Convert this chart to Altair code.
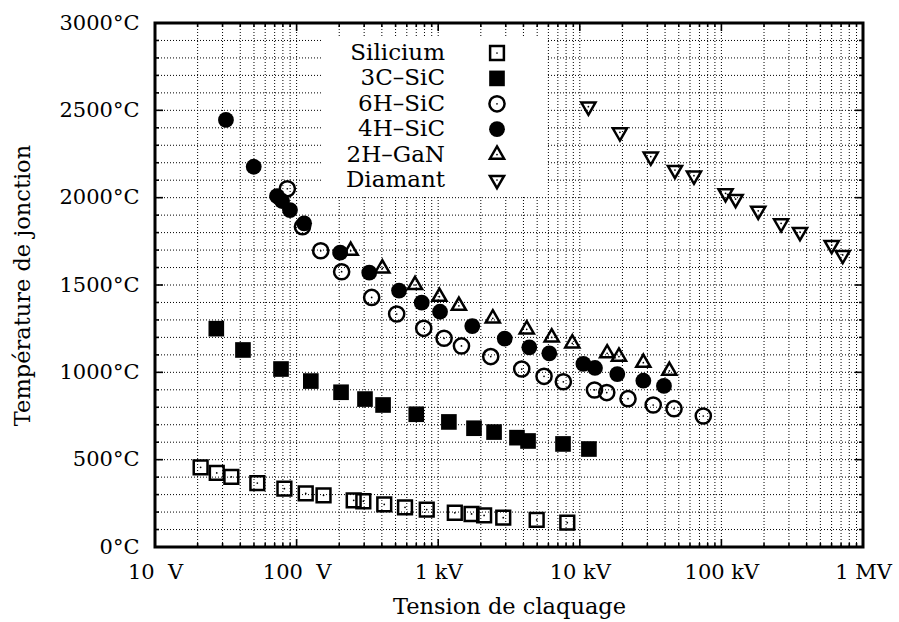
import json
import altair as alt
import pandas as pd

# Breakdown voltage (V) and maximum junction temperature (°C) for each material
si_v = [21, 27.3, 34.6, 52.8, 82, 116, 155, 253, 296, 416, 583, 830, 1310, 1720, 2110, 2880, 4960, 8160]
si_t = [456, 424, 402, 366, 334, 307, 296, 267, 262, 244, 227, 214, 196, 189, 181, 168, 155, 139]

c3_v = [27.1, 41.8, 77.6, 126, 206, 304, 408, 700, 1190, 1790, 2480, 3600, 4310, 7610, 11600]
c3_t = [1250, 1128, 1019, 950, 886, 847, 813, 760, 716, 680, 658, 626, 607, 590, 561]

h6_v = [86, 110, 148, 208, 339, 509, 790, 1100, 1460, 2350, 3890, 5590, 7650, 12700, 15500,
        21900, 33000, 46300, 74500]
h6_t = [2051, 1834, 1696, 1576, 1429, 1334, 1252, 1195, 1151, 1090, 1019, 977, 946, 899, 884,
        849, 813, 792, 750]

h4_v = [31.7, 49.8, 72.7, 78.9, 89.8, 113, 203, 326, 529, 765, 1030, 1740, 2950, 4400, 6090,
        10600, 12800, 18400, 28100, 39300]
h4_t = [2445, 2177, 2009, 1981, 1929, 1853, 1685, 1571, 1468, 1399, 1347, 1265, 1193, 1143, 1109,
        1048, 1025, 990, 952, 922]

gan_v = [241, 403, 686, 1020, 1400, 2430, 4220, 6330, 8850, 15600, 18900, 28100, 42900]
gan_t = [1696, 1595, 1500, 1433, 1381, 1309, 1246, 1200, 1166, 1109, 1090, 1055, 1009]

dia_v = [11500, 19200, 31700, 47000, 64000, 107000, 126000, 182000, 264000, 359000, 601000, 719000]
dia_t = [2521, 2374, 2235, 2158, 2126, 2025, 1992, 1925, 1853, 1803, 1729, 1672]

names = ["Silicium", "3C–SiC", "6H–SiC", "4H–SiC", "2H–GaN", "Diamant"]
volts = [si_v, c3_v, h6_v, h4_v, gan_v, dia_v]
temps = [si_t, c3_t, h6_t, h4_t, gan_t, dia_t]

# Axis labels
x_tick_values = [10, 100, 1000, 10000, 100000, 1000000]
x_tick_labels = ["10\u00a0\u00a0V", "100\u00a0\u00a0V", "1\u00a0kV", "10\u00a0kV", "100\u00a0kV", "1\u00a0MV"]
y_tick_values = [0, 500, 1000, 1500, 2000, 2500, 3000]

# Marker styles (triangles are centred on their centroid, gnuplot-like)
TRI_UP = "M0,-1.155L1,0.577L-1,0.577Z"
TRI_DOWN = "M0,1.155L1,-0.577L-1,-0.577Z"
styles = {
    "Silicium": dict(shape="square", filled=False, size=190),
    "3C–SiC": dict(shape="square", filled=True, size=245),
    "6H–SiC": dict(shape="circle", filled=False, size=230),
    "4H–SiC": dict(shape="circle", filled=True, size=250),
    "2H–GaN": dict(shape=TRI_UP, filled=False, size=200),
    "Diamant": dict(shape=TRI_DOWN, filled=False, size=200),
}

FONT = "DejaVu Serif"
W, H = 708, 524

xs = alt.Scale(type="log", domain=[10, 1e6], nice=False)
ys = alt.Scale(domain=[0, 3000], nice=False, zero=False)

label_map = json.dumps({str(v): s for v, s in zip(x_tick_values, x_tick_labels)})

x_axis = alt.Axis(
    values=x_tick_values, labelExpr=f"{label_map}[datum.value]",
    title="Tension de claquage", ticks=False, domain=False, grid=False,
    labelFlush=False, labelOverlap=False, labelPadding=14, titlePadding=13,
    labelFontSize=21, titleFontSize=22.5, labelFont=FONT, titleFont=FONT,
    labelColor="black", titleColor="black", titleFontWeight="normal")
y_axis = alt.Axis(
    values=y_tick_values, labelExpr="datum.value + '°C'",
    title="Température de jonction", ticks=False, domain=False, grid=False,
    labelPadding=16, titlePadding=24, labelFontSize=21, titleFontSize=22.5,
    labelFont=FONT, titleFont=FONT, labelColor="black", titleColor="black",
    titleFontWeight="normal")

pts = pd.concat(
    [pd.DataFrame({"series": n, "v": v, "t": t}) for n, v, t in zip(names, volts, temps)],
    ignore_index=True,
)


def X(field):
    return alt.X(field, type="quantitative", scale=xs, axis=x_axis)


def Y(field):
    return alt.Y(field, type="quantitative", scale=ys, axis=y_axis)


def marker(style):
    """Keyword arguments for mark_point drawing one series symbol."""
    kw = dict(shape=style["shape"], size=style["size"], color="black", opacity=1)
    if style["filled"]:
        kw.update(filled=True, strokeWidth=0)
    else:
        kw.update(filled=False, strokeWidth=2.5)
    return kw


# Grid: every log sub-decade and every 100 °C
x_grid = [m * 10 ** e for e in range(1, 6) for m in range(1, 10) if m * 10 ** e > 10]
y_grid = list(range(100, 3000, 100))
grid_style = dict(color="black", strokeWidth=1, strokeDash=[1, 2])
gx = alt.Chart(pd.DataFrame({"g": x_grid})).mark_rule(**grid_style).encode(
    x=X("g"), y=alt.value(0), y2=alt.value(H))
gy = alt.Chart(pd.DataFrame({"g": y_grid})).mark_rule(**grid_style).encode(
    y=Y("g"), x=alt.value(0), x2=alt.value(W))

# Inward ticks on all four sides
x_major = x_tick_values
x_minor = [v for v in x_grid if v not in x_major]
y_major = y_tick_values
y_minor = [v for v in range(0, 3001, 100) if v not in y_major]


def xticks(vals, length):
    d = pd.DataFrame({"k": vals})
    bottom = alt.Chart(d).mark_rule(color="black", strokeWidth=1.6).encode(
        x=X("k"), y=alt.value(H), y2=alt.value(H - length))
    top = alt.Chart(d).mark_rule(color="black", strokeWidth=1.6).encode(
        x=X("k"), y=alt.value(0), y2=alt.value(length))
    return [bottom, top]


def yticks(vals, length):
    d = pd.DataFrame({"k": vals})
    left = alt.Chart(d).mark_rule(color="black", strokeWidth=1.6).encode(
        y=Y("k"), x=alt.value(0), x2=alt.value(length))
    right = alt.Chart(d).mark_rule(color="black", strokeWidth=1.6).encode(
        y=Y("k"), x=alt.value(W), x2=alt.value(W - length))
    return [left, right]


ticks = xticks(x_major, 8) + xticks(x_minor, 4) + yticks(y_major, 8) + yticks(y_minor, 4)

# Data series, drawn in legend order
series_layers = []
for n in names:
    st = styles[n]
    d = pts[pts["series"] == n]
    series_layers.append(alt.Chart(d).mark_point(**marker(st)).encode(x=X("v"), y=Y("t")))
    if not st["filled"]:
        series_layers.append(alt.Chart(d).mark_circle(size=3, color="black", opacity=1).encode(
            x=X("v"), y=Y("t")))

# Legend inside the plot: white panel, right-aligned labels, symbols on the right
legend_layers = [alt.Chart(pd.DataFrame({"a": [0]})).mark_rect(color="white").encode(
    x=alt.value(168), x2=alt.value(392), y=alt.value(15), y2=alt.value(172))]
for i, n in enumerate(names):
    st = styles[n]
    row = pd.DataFrame({"series": [n]})
    ly = 30 + 25.4 * i
    legend_layers.append(alt.Chart(row).mark_text(
        align="right", baseline="middle", font=FONT, fontSize=23, color="black").encode(
        x=alt.value(290), y=alt.value(ly), text="series:N"))
    legend_layers.append(alt.Chart(row).mark_point(**marker(st)).encode(
        x=alt.value(342), y=alt.value(ly)))
    if not st["filled"]:
        legend_layers.append(alt.Chart(row).mark_circle(size=3, color="black", opacity=1).encode(
            x=alt.value(342), y=alt.value(ly)))

chart = alt.layer(gx, gy, *ticks, *legend_layers, *series_layers).properties(
    width=W, height=H,
    padding={"left": 155, "top": 23, "right": 36, "bottom": 75},
    autosize=alt.AutoSizeParams(type="none"),
    background="white",
).configure_view(
    stroke="black", strokeWidth=3,
)

chart.save("out.html", embed_options={"renderer": "svg", "actions": False})
